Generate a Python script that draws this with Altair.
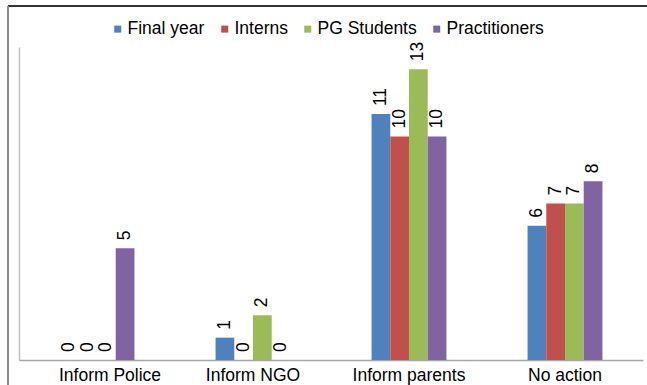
import altair as alt
import pandas as pd

# Responses by group, per action category
categories = ["Inform Police", "Inform NGO", "Inform parents", "No action"]
groups = ["Final year", "Interns", "PG Students", "Practitioners"]
final_year = [0, 1, 11, 6]
interns = [0, 0, 10, 7]
pg_students = [0, 2, 13, 7]
practitioners = [5, 0, 10, 8]
colors = ["#4F81BD", "#C0504D", "#9BBB59", "#8064A2"]

rows = []
for series_name, series in zip(groups, [final_year, interns, pg_students, practitioners]):
    for cat, val in zip(categories, series):
        rows.append({"category": cat, "group": series_name, "value": val})
df = pd.DataFrame(rows)

FONT = "Liberation Sans"

base = alt.Chart(df).encode(
    x=alt.X(
        "category:N",
        sort=categories,
        title=None,
        scale=alt.Scale(paddingInner=0.52, paddingOuter=0.26),
        axis=alt.Axis(
            labelAngle=0,
            ticks=False,
            tickSize=0,
            labelPadding=6,
            labelFontSize=17.5,
            labelFont=FONT,
            labelColor="#000000",
            domainColor="#a6a6a6",
            domainWidth=1.5,
            labelOffset={"condition": {"test": "datum.value === 'Inform Police'", "value": 13}, "value": 0},
        ),
    ),
    xOffset=alt.XOffset(
        "group:N", sort=groups, scale=alt.Scale(paddingInner=0, paddingOuter=0)
    ),
    y=alt.Y(
        "value:Q",
        title=None,
        scale=alt.Scale(domain=[0, 14], nice=False),
        axis=alt.Axis(
            labels=False,
            ticks=False,
            grid=False,
            domainColor="#bfbfbf",
            domainWidth=1.5,
        ),
    ),
)

bars = base.mark_bar().encode(
    color=alt.Color(
        "group:N",
        sort=groups,
        scale=alt.Scale(domain=groups, range=colors),
        legend=alt.Legend(
            title=None,
            orient="none",
            legendX=90,
            legendY=-27,
            direction="horizontal",
            symbolType="square",
            symbolSize=49,
            symbolStrokeWidth=0,
            labelFontSize=17.5,
            labelFont=FONT,
            labelColor="#000000",
            labelOffset=1,
            columnPadding=11,
        ),
    )
)

labels = base.mark_text(
    angle=270, align="left", baseline="middle", dx=8, fontSize=17.5, font=FONT, color="#000000"
).encode(text="value:Q")

frame_df = pd.DataFrame({"k": [0]})
frame_top = alt.Chart(frame_df).mark_rule(color="#333333", strokeWidth=2).encode(
    x=alt.value(-11), x2=alt.value(700), y=alt.value(-41)
)
frame_left = alt.Chart(frame_df).mark_rule(color="#8c8c8c", strokeWidth=2).encode(
    x=alt.value(-11), y=alt.value(-41), y2=alt.value(400)
)

chart = (
    alt.layer(frame_top, frame_left, bars, labels)
    .properties(
        width=624,
        height=313,
        autosize=alt.AutoSizeParams(type="none"),
        padding={"left": 19, "top": 47, "right": 4, "bottom": 25},
    )
    .configure_view(stroke=None)
)

chart.save("out.html", embed_options={"renderer": "svg", "actions": False})
